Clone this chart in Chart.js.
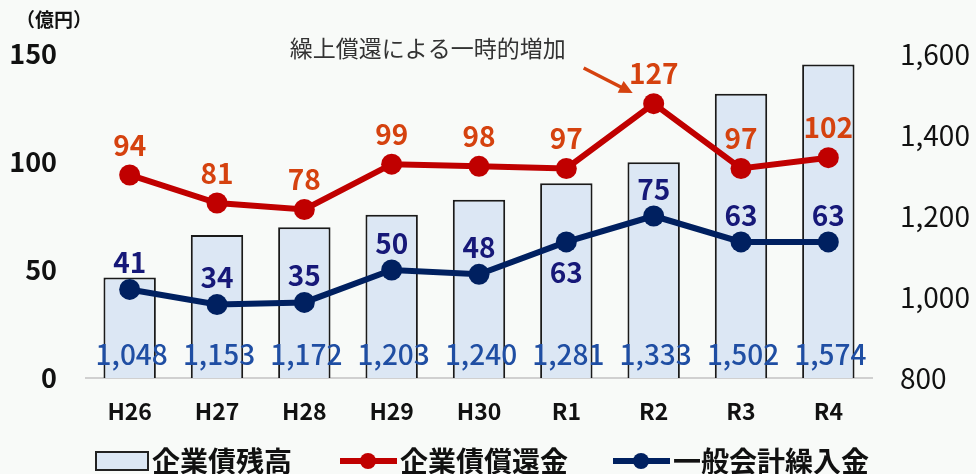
<!DOCTYPE html>
<html lang="ja">
<head>
<meta charset="utf-8">
<script src="https://cdn.jsdelivr.net/npm/chart.js@4"></script>
<style>
  html, body { margin: 0; padding: 0; background: #f8faf8; }
  #wrap { width: 976px; height: 474px; position: relative; }
</style>
</head>
<body>
<div id="wrap"><canvas id="myChart" width="976" height="474"></canvas></div>
<script>
// データ
var years = ['H26', 'H27', 'H28', 'H29', 'H30', 'R1', 'R2', 'R3', 'R4'];
var zandaka = [1048, 1153, 1172, 1203, 1240, 1281, 1333, 1502, 1574];   // 企業債残高
var shokan = [94, 81, 78, 99, 98, 97, 127, 97, 102];                     // 企業債償還金
var kurire = [41, 34, 35, 50, 48, 63, 75, 63, 63];                       // 一般会計繰入金
var leftTicks = [0, 50, 100, 150];
var rightTicks = [800, 1000, 1200, 1400, 1600];

var FONT = '"Noto Sans CJK JP", "Noto Sans", sans-serif';
var barFill = '#dce7f4';
var redLine = '#c00000';
var redText = '#d5420f';
var navyLine = '#002060';
var navyText = '#161878';
var barText = '#1f4ea3';

function fmt(v) {
  return v.toLocaleString('en-US');
}

// 値ラベル・注記・凡例をまとめて描く
var labelPlugin = {
  id: 'labels',
  afterDatasetsDraw: function(chart) {
    var c = chart.ctx;
    c.save();
    c.textAlign = 'center';
    c.textBaseline = 'middle';

    // 棒グラフの値（下寄せ）
    var barMeta = chart.getDatasetMeta(0);
    c.font = '500 28px ' + FONT;
    c.fillStyle = barText;
    barMeta.data.forEach(function(bar, i) {
      c.fillText(fmt(zandaka[i]), bar.x + 2, chart.chartArea.bottom - 24);
    });

    // 償還金
    var redMeta = chart.getDatasetMeta(1);
    c.font = 'bold 28px ' + FONT;
    c.fillStyle = redText;
    redMeta.data.forEach(function(pt, i) {
      c.fillText(shokan[i], pt.x, pt.y - 30);
    });

    // 繰入金（R1だけ下）
    var navyMeta = chart.getDatasetMeta(2);
    c.fillStyle = navyText;
    navyMeta.data.forEach(function(pt, i) {
      var dy = (years[i] === 'R1') ? 30 : -27;
      c.fillText(kurire[i], pt.x, pt.y + dy);
    });
    c.restore();
  },
  afterDraw: function(chart) {
    var c = chart.ctx;
    c.save();

    // 単位
    c.font = 'bold 19px ' + FONT;
    c.fillStyle = '#111';
    c.textAlign = 'left';
    c.textBaseline = 'middle';
    c.fillText('（億円）', 16, 20);

    // 注記
    var r2 = chart.getDatasetMeta(1).data[6];
    c.font = '23px ' + FONT;
    c.fillStyle = '#333';
    c.textAlign = 'center';
    c.fillText('繰上償還による一時的増加', r2.x - 226, 48);

    // 矢印
    var x1 = r2.x - 70, y1 = 68, x2 = r2.x - 21, y2 = 93;
    c.strokeStyle = redText;
    c.fillStyle = redText;
    c.lineWidth = 3.5;
    c.beginPath();
    c.moveTo(x1, y1);
    c.lineTo(x2 - 8, y2 - 4);
    c.stroke();
    var ang = Math.atan2(y2 - y1, x2 - x1);
    c.beginPath();
    c.moveTo(x2, y2);
    c.lineTo(x2 - 15 * Math.cos(ang - 0.45), y2 - 15 * Math.sin(ang - 0.45));
    c.lineTo(x2 - 15 * Math.cos(ang + 0.45), y2 - 15 * Math.sin(ang + 0.45));
    c.closePath();
    c.fill();

    // 凡例
    var ly = 461;
    c.font = 'bold 28px ' + FONT;
    c.textAlign = 'left';
    c.textBaseline = 'middle';
    c.fillStyle = barFill;
    c.strokeStyle = '#222';
    c.lineWidth = 2;
    c.fillRect(96, ly - 9, 52, 18);
    c.strokeRect(96, ly - 9, 52, 18);
    c.fillStyle = '#111';
    c.fillText(chart.data.datasets[0].label, 152, ly);

    [[1, 340, redLine], [2, 613, navyLine]].forEach(function(it) {
      var x = it[1];
      c.strokeStyle = it[2];
      c.fillStyle = it[2];
      c.lineWidth = 6;
      c.beginPath();
      c.moveTo(x, ly);
      c.lineTo(x + 57, ly);
      c.stroke();
      c.beginPath();
      c.arc(x + 28, ly, 8, 0, Math.PI * 2);
      c.fill();
      c.fillStyle = '#111';
      c.fillText(chart.data.datasets[it[0]].label, x + 60, ly);
    });
    c.restore();
  }
};

var ctx = document.getElementById('myChart').getContext('2d');

new Chart(ctx, {
  type: 'bar',
  data: {
    labels: years,
    datasets: [
      {
        type: 'bar',
        label: '企業債残高',
        data: zandaka,
        yAxisID: 'y2',
        backgroundColor: barFill,
        borderColor: '#1a1a1a',
        borderWidth: 2,
        borderSkipped: 'bottom',
        categoryPercentage: 1,
        barPercentage: 0.6,
        order: 3
      },
      {
        type: 'line',
        label: '企業債償還金',
        data: shokan,
        yAxisID: 'y',
        borderColor: redLine,
        backgroundColor: redLine,
        borderWidth: 6,
        pointRadius: 10.5,
        pointHoverRadius: 10.5,
        pointBorderWidth: 0,
        tension: 0,
        order: 1
      },
      {
        type: 'line',
        label: '一般会計繰入金',
        data: kurire,
        yAxisID: 'y',
        borderColor: navyLine,
        backgroundColor: navyLine,
        borderWidth: 6,
        pointRadius: 10.5,
        pointHoverRadius: 10.5,
        pointBorderWidth: 0,
        tension: 0,
        order: 2
      }
    ]
  },
  options: {
    responsive: false,
    animation: false,
    layout: { padding: { top: 54, left: 0, right: 0, bottom: 0 } },
    plugins: {
      legend: { display: false },
      tooltip: { enabled: false }
    },
    scales: {
      x: {
        offset: true,
        grid: { display: false, drawTicks: false },
        border: { display: true, color: '#d0d0d0', width: 2 },
        ticks: {
          color: '#111',
          font: { family: FONT, size: 23, weight: 'bold' },
          padding: 19
        },
        afterFit: function(s) { s.height = 96; }
      },
      y: {
        position: 'left',
        min: 0,
        max: 150,
        afterBuildTicks: function(s) {
          s.ticks = leftTicks.map(function(v) { return { value: v }; });
        },
        grid: { display: false, drawTicks: false },
        border: { display: false },
        ticks: {
          color: '#111',
          font: { family: FONT, size: 27, weight: 'bold' },
          padding: 29
        },
        afterFit: function(s) { s.width = 86; }
      },
      y2: {
        position: 'right',
        min: 800,
        max: 1600,
        afterBuildTicks: function(s) {
          s.ticks = rightTicks.map(function(v) { return { value: v }; });
        },
        grid: { display: false, drawTicks: false },
        border: { display: false },
        ticks: {
          color: '#111',
          font: { family: FONT, size: 28 },
          padding: 28,
          callback: function(v) { return fmt(v); }
        },
        afterFit: function(s) { s.width = 104; }
      }
    }
  },
  plugins: [labelPlugin]
});
</script>
</body>
</html>
